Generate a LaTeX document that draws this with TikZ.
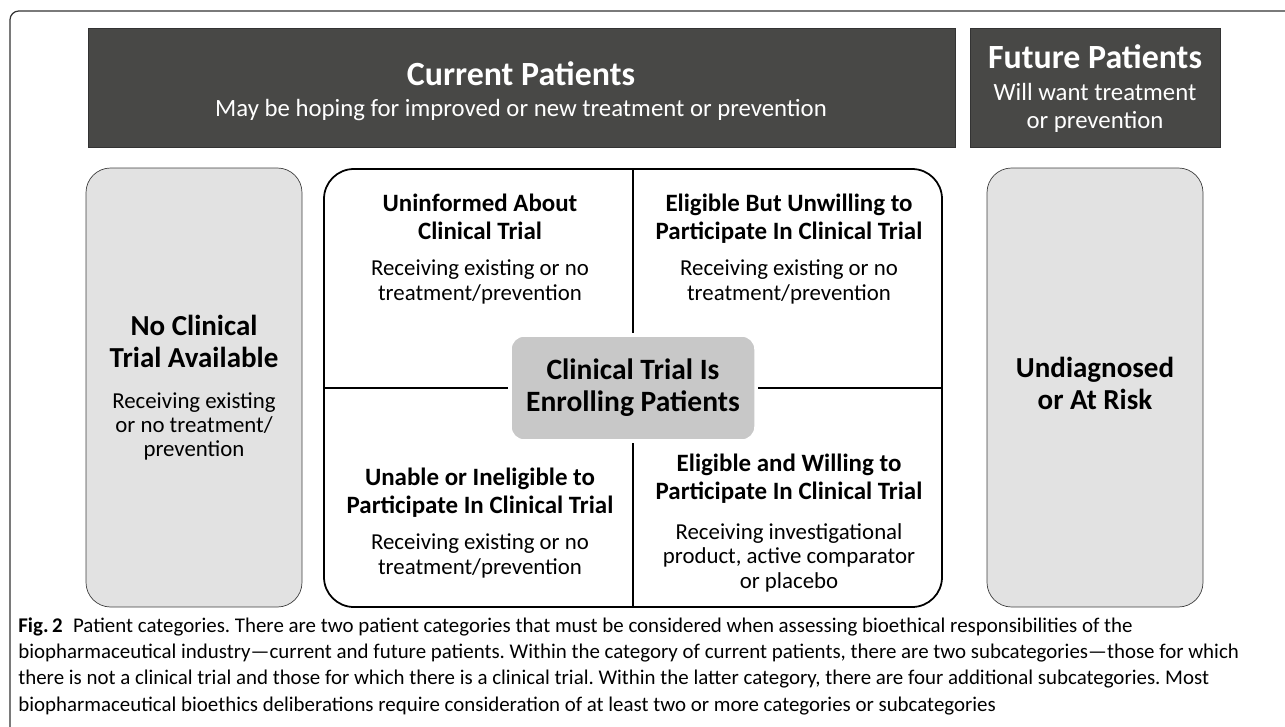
\documentclass[tikz,border=0pt]{standalone}
\usepackage{fontspec}
\setmainfont{Carlito}

\definecolor{hdrgray}{HTML}{484846}
\definecolor{sidegray}{HTML}{E2E2E2}
\definecolor{trialgray}{HTML}{C8C8C8}

\newlength{\px}
\setlength{\px}{0.02cm}

\begin{document}
\begin{tikzpicture}[x=0.02cm,y=-0.02cm,
  hdrbox/.style={draw=black!80,fill=hdrgray,inner sep=0pt},
  sidebox/.style={draw=black!75,fill=sidegray,rounded corners=14pt,inner sep=0pt},
  txt/.style={anchor=base,align=center,inner sep=0pt},
  hdrtitle/.style={txt,text=white,font=\fontsize{19.3}{22}\selectfont\bfseries},
  hdrsub/.style={txt,text=white,font=\fontsize{14.1}{15.9}\selectfont},
  sidetitle/.style={txt,font=\fontsize{16.5}{18.1}\selectfont\bfseries},
  sidebody/.style={txt,font=\fontsize{13}{13.4}\selectfont},
  quadtitle/.style={txt,font=\fontsize{14.2}{15.6}\selectfont\bfseries},
  quadbody/.style={txt,font=\fontsize{13}{13.8}\selectfont}]
\useasboundingbox (0,0) rectangle (1285,727);

% outer frame
\draw[rounded corners=5pt,line width=0.7pt,black!80] (10,11) rectangle (1340,790);

% header bars
\node[hdrbox,minimum width=867*\px,minimum height=119*\px] (current) at (521.5,87.5) {};
\node[hdrbox,minimum width=250*\px,minimum height=119*\px] (future) at (1095,87.5) {};
\node[hdrtitle] (currenttitle) at (521,85) {Current Patients};
\node[hdrsub] (currentsub) at (521,116) {May be hoping for improved or new treatment or prevention};
\node[hdrtitle] (futuretitle) at (1095,68) {Future Patients};
\node[hdrsub] (futuresub) at (1095,128) {Will want treatment\\or prevention};

% side columns
\node[sidebox,minimum width=216*\px,minimum height=439*\px] (notrial) at (194,387.5) {};
\node[sidebox,minimum width=216*\px,minimum height=439*\px] (undiag) at (1095,387.5) {};
\node[sidetitle] (notrialtitle) at (194,367) {No Clinical\\Trial Available};
\node[sidebody] (notrialbody) at (194,456) {Receiving existing\\or no treatment/\\prevention};
\node[sidetitle] (undiagtitle) at (1095,409) {Undiagnosed\\or At Risk};

% clinical trial quadrants
\node[draw,line width=1pt,rounded corners=17pt,minimum width=618*\px,minimum height=438*\px,inner sep=0pt] (trialframe) at (633,388) {};
\draw[line width=1pt] (trialframe.north) -- (trialframe.south);
\draw[line width=1pt] (trialframe.west) -- (trialframe.east);
\node[fill=trialgray,draw=white,line width=2pt,rounded corners=8pt,minimum width=246*\px,minimum height=106*\px,inner sep=0pt] (trialbox) at (633,388) {};
\node[txt,font=\fontsize{16.8}{18.1}\selectfont\bfseries] (trialtext) at (633,411) {Clinical Trial Is\\Enrolling Patients};

\node[quadtitle] (uninftitle) at (480,239) {Uninformed About\\Clinical Trial};
\node[quadbody] (uninfbody) at (480,300) {Receiving existing or no\\treatment/prevention};
\node[quadtitle] (unwilltitle) at (789,239) {Eligible But Unwilling to\\Participate In Clinical Trial};
\node[quadbody] (unwillbody) at (789,300) {Receiving existing or no\\treatment/prevention};
\node[quadtitle] (unabletitle) at (480,513) {Unable or Ineligible to\\Participate In Clinical Trial};
\node[quadbody] (unablebody) at (480,574) {Receiving existing or no\\treatment/prevention};
\node[quadtitle] (willtitle) at (789,499) {Eligible and Willing to\\Participate In Clinical Trial};
\node[quadbody] (willbody) at (789,588) {Receiving investigational\\product, active comparator\\or placebo};

% caption
\node[anchor=base west,align=left,inner sep=0pt,font=\fontsize{11.9}{14.9}\selectfont\frenchspacing] (caption) at (18,711)
  {\textbf{Fig.\,2}\enspace Patient categories. There are two patient categories that must be considered when assessing bioethical responsibilities of the\\
   biopharmaceutical industry---current and future patients. Within the category of current patients, there are two subcategories---those for which\\
   there is not a clinical trial and those for which there is a clinical trial. Within the latter category, there are four additional subcategories. Most\\
   biopharmaceutical bioethics deliberations require consideration of at least two or more categories or subcategories};
\end{tikzpicture}
\end{document}
